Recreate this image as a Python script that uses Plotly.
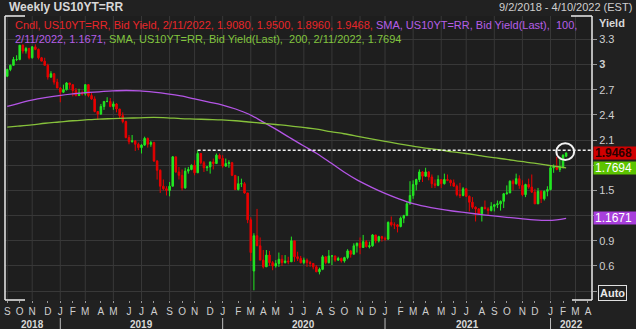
import pandas as pd
import plotly.graph_objects as go

# ---------------- data ----------------
chart_title = "Weekly US10YT=RR"
range_label = "9/2/2018 - 4/10/2022 (EST)"
axis_start, axis_end = "2018-09-02", "2022-04-10"
bar_dates = pd.date_range("2018-09-07", "2022-02-11", freq="W-FRI")

opens = [
    # 2018
    2.86, 2.94, 2.99, 3.06, 3.06, 3.23, 3.16, 3.19, 3.08, 3.21, 3.18, 3.08, 3.04, 2.99, 2.85, 2.89, 2.79,
    # 2019
    2.72, 2.67, 2.70, 2.78, 2.76, 2.69, 2.63, 2.66, 2.65, 2.76, 2.63, 2.59, 2.44, 2.41, 2.50, 2.56, 2.56,
    2.50, 2.53, 2.47, 2.39, 2.32, 2.13, 2.08, 2.09, 2.05, 2.01, 2.04, 2.12, 2.05, 2.07, 1.85, 1.74, 1.55, 1.52,
    1.50, 1.55, 1.90, 1.72, 1.68, 1.53, 1.73, 1.75, 1.80, 1.71, 1.94, 1.83, 1.77, 1.78, 1.84, 1.82, 1.92,
    # 2020
    1.88, 1.79, 1.82, 1.83, 1.68, 1.51, 1.58, 1.58, 1.47, 1.15, 0.54, 0.96, 0.84, 0.67, 0.59, 0.73, 0.64,
    0.60, 0.63, 0.68, 0.64, 0.66, 0.65, 0.90, 0.71, 0.69, 0.64, 0.67, 0.64, 0.63, 0.59, 0.53, 0.56, 0.71, 0.64,
    0.72, 0.72, 0.67, 0.69, 0.66, 0.70, 0.78, 0.74, 0.84, 0.87, 0.82, 0.89, 0.83, 0.84, 0.97, 0.90, 0.95,
    # 2021
    0.93, 0.92, 1.12, 1.09, 1.09, 1.07, 1.17, 1.20, 1.34, 1.44, 1.57, 1.63, 1.72, 1.67, 1.72, 1.66, 1.58, 1.56,
    1.63, 1.58, 1.63, 1.62, 1.59, 1.55, 1.45, 1.44, 1.52, 1.43, 1.36, 1.30, 1.28, 1.22, 1.30, 1.28, 1.26,
    1.31, 1.33, 1.34, 1.37, 1.46, 1.47, 1.61, 1.58, 1.64, 1.56, 1.45, 1.57, 1.54, 1.48, 1.34, 1.49, 1.40, 1.49,
    # 2022
    1.51, 1.77, 1.78, 1.75, 1.78, 1.9080,
]
highs = [
    2.95, 3.00, 3.09, 3.11, 3.23, 3.24, 3.21, 3.20, 3.22, 3.24, 3.19, 3.09, 3.08, 3.01, 2.92, 2.90, 2.83,
    2.73, 2.76, 2.79, 2.78, 2.76, 2.72, 2.71, 2.69, 2.76, 2.76, 2.66, 2.62, 2.44, 2.53, 2.56, 2.61, 2.60,
    2.56, 2.54, 2.47, 2.43, 2.33, 2.16, 2.16, 2.10, 2.07, 2.05, 2.14, 2.13, 2.09, 2.08, 1.86, 1.75, 1.63, 1.55,
    1.60, 1.91, 1.90, 1.78, 1.75, 1.77, 1.78, 1.81, 1.86, 1.98, 1.94, 1.85, 1.79, 1.84, 1.88, 1.94, 1.94,
    1.92, 1.88, 1.86, 1.84, 1.68, 1.67, 1.64, 1.60, 1.47, 1.18, 0.99, 1.28, 0.94, 0.79, 0.79, 0.78, 0.66,
    0.67, 0.76, 0.73, 0.73, 0.71, 0.95, 0.90, 0.77, 0.72, 0.70, 0.69, 0.66, 0.63, 0.61, 0.58, 0.73, 0.71, 0.79,
    0.73, 0.72, 0.71, 0.70, 0.71, 0.80, 0.79, 0.87, 0.88, 0.94, 0.97, 0.91, 0.89, 0.98, 0.97, 0.96, 0.96,
    0.95, 1.13, 1.19, 1.12, 1.10, 1.19, 1.21, 1.36, 1.61, 1.62, 1.64, 1.75, 1.73, 1.77, 1.73, 1.69, 1.63, 1.68,
    1.63, 1.70, 1.69, 1.63, 1.63, 1.57, 1.59, 1.54, 1.53, 1.44, 1.42, 1.31, 1.29, 1.30, 1.38, 1.30, 1.36,
    1.33, 1.38, 1.38, 1.47, 1.56, 1.62, 1.63, 1.70, 1.68, 1.62, 1.58, 1.64, 1.69, 1.52, 1.53, 1.50, 1.50, 1.55,
    1.80, 1.81, 1.90, 1.88, 1.93, 1.9500,
]
lows = [
    2.85, 2.92, 2.99, 3.04, 3.05, 3.13, 3.13, 3.06, 3.07, 3.17, 3.06, 3.04, 2.99, 2.82, 2.84, 2.76, 2.72,
    2.55, 2.66, 2.69, 2.71, 2.62, 2.62, 2.63, 2.63, 2.63, 2.61, 2.58, 2.43, 2.34, 2.40, 2.46, 2.55, 2.49,
    2.46, 2.43, 2.35, 2.30, 2.12, 2.05, 2.07, 1.97, 1.98, 1.94, 2.03, 2.01, 2.02, 1.84, 1.63, 1.47, 1.50, 1.44,
    1.43, 1.55, 1.71, 1.63, 1.50, 1.52, 1.70, 1.74, 1.68, 1.71, 1.81, 1.72, 1.73, 1.70, 1.75, 1.82, 1.87,
    1.77, 1.78, 1.77, 1.67, 1.51, 1.50, 1.54, 1.46, 1.11, 0.66, 0.31, 0.84, 0.67, 0.57, 0.59, 0.60, 0.55,
    0.58, 0.59, 0.60, 0.63, 0.62, 0.65, 0.65, 0.66, 0.63, 0.62, 0.59, 0.59, 0.56, 0.53, 0.50, 0.55, 0.62, 0.63,
    0.61, 0.65, 0.66, 0.64, 0.64, 0.68, 0.70, 0.74, 0.76, 0.74, 0.82, 0.82, 0.81, 0.83, 0.87, 0.88, 0.89,
    0.90, 0.91, 1.07, 1.04, 1.00, 1.06, 1.11, 1.20, 1.33, 1.40, 1.50, 1.60, 1.60, 1.66, 1.62, 1.53, 1.53, 1.55,
    1.53, 1.57, 1.61, 1.55, 1.55, 1.43, 1.41, 1.43, 1.42, 1.25, 1.28, 1.13, 1.22, 1.13, 1.28, 1.21, 1.25,
    1.25, 1.29, 1.26, 1.29, 1.45, 1.47, 1.50, 1.57, 1.52, 1.43, 1.42, 1.52, 1.47, 1.34, 1.34, 1.35, 1.38, 1.43,
    1.50, 1.71, 1.74, 1.72, 1.76, 1.8960,
]
closes = [
    2.94, 2.99, 3.06, 3.06, 3.23, 3.16, 3.19, 3.08, 3.21, 3.18, 3.08, 3.04, 2.99, 2.85, 2.89, 2.79, 2.72,
    2.67, 2.70, 2.78, 2.76, 2.69, 2.63, 2.66, 2.65, 2.76, 2.63, 2.59, 2.44, 2.41, 2.50, 2.56, 2.56, 2.50,
    2.53, 2.47, 2.39, 2.32, 2.13, 2.08, 2.09, 2.05, 2.01, 2.04, 2.12, 2.05, 2.07, 1.85, 1.74, 1.55, 1.52, 1.50,
    1.55, 1.90, 1.72, 1.68, 1.53, 1.73, 1.75, 1.80, 1.71, 1.94, 1.83, 1.77, 1.78, 1.84, 1.82, 1.92, 1.88,
    1.79, 1.82, 1.83, 1.68, 1.51, 1.58, 1.58, 1.47, 1.15, 0.76, 0.96, 0.84, 0.67, 0.59, 0.73, 0.64, 0.60,
    0.63, 0.68, 0.64, 0.66, 0.65, 0.90, 0.71, 0.69, 0.64, 0.67, 0.64, 0.63, 0.59, 0.53, 0.56, 0.71, 0.64, 0.72,
    0.72, 0.67, 0.69, 0.66, 0.70, 0.78, 0.74, 0.84, 0.87, 0.82, 0.89, 0.83, 0.84, 0.97, 0.90, 0.95, 0.93,
    0.92, 1.12, 1.09, 1.09, 1.07, 1.17, 1.20, 1.34, 1.44, 1.57, 1.63, 1.72, 1.67, 1.72, 1.66, 1.58, 1.56, 1.63,
    1.58, 1.63, 1.62, 1.59, 1.55, 1.45, 1.44, 1.52, 1.43, 1.36, 1.30, 1.28, 1.22, 1.30, 1.28, 1.26, 1.31,
    1.33, 1.34, 1.37, 1.46, 1.47, 1.61, 1.58, 1.64, 1.56, 1.45, 1.57, 1.54, 1.48, 1.34, 1.49, 1.40, 1.49, 1.51,
    1.77, 1.78, 1.75, 1.78, 1.92, 1.9468,
]

sma_dates = [
    "2018-09-07", "2018-10-01", "2018-11-01", "2018-12-01", "2019-01-01", "2019-02-01", "2019-03-01",
    "2019-04-01", "2019-05-01", "2019-06-01", "2019-07-01", "2019-08-01", "2019-09-01", "2019-10-01",
    "2019-11-01", "2019-12-01", "2020-01-01", "2020-02-01", "2020-03-01", "2020-04-01", "2020-05-01",
    "2020-06-01", "2020-07-01", "2020-08-01", "2020-09-01", "2020-10-01", "2020-11-01", "2020-12-01",
    "2021-01-01", "2021-02-01", "2021-03-01", "2021-04-01", "2021-05-01", "2021-06-01", "2021-07-01",
    "2021-08-01", "2021-09-01", "2021-10-01", "2021-11-01", "2021-12-01", "2022-01-01", "2022-01-21",
    "2022-02-11",
]
sma100 = [
    2.50, 2.535, 2.575, 2.605, 2.63, 2.65, 2.665, 2.675, 2.685, 2.69, 2.685, 2.67, 2.65, 2.625,
    2.59, 2.555, 2.52, 2.47, 2.41, 2.32, 2.23, 2.13, 2.035, 1.94, 1.83, 1.72, 1.62, 1.54,
    1.465, 1.40, 1.35, 1.31, 1.28, 1.255, 1.235, 1.215, 1.197, 1.18, 1.165, 1.15, 1.143, 1.150,
    1.1671,
]
sma200 = [
    2.255, 2.265, 2.28, 2.30, 2.315, 2.33, 2.34, 2.35, 2.355, 2.36, 2.365, 2.37, 2.365, 2.355,
    2.35, 2.345, 2.34, 2.33, 2.315, 2.30, 2.285, 2.27, 2.25, 2.23, 2.20, 2.175, 2.145, 2.115,
    2.085, 2.055, 2.03, 2.005, 1.985, 1.96, 1.94, 1.915, 1.89, 1.87, 1.845, 1.825, 1.80, 1.785,
    1.7694,
]

y_ticks = [0.3, 0.6, 0.9, 1.2, 1.5, 1.8, 2.1, 2.4, 2.7, 3.0, 3.3]
y_hidden = [0.3, 1.2, 1.8]          # covered by the value boxes / Auto box
month_letters = "JFMAMJJASOND"
resistance_date = "2019-11-08"      # swing high the dashed level is drawn from

assert len(opens) == len(highs) == len(lows) == len(closes) == len(bar_dates)
assert len(sma_dates) == len(sma100) == len(sma200)

# ---------------- style ----------------
W, H = 636, 329
L, R, T, B = 5, 592, 16, 300
BG = "#212121"
PLOT_BG = "#1e1e1e"
GRID = "#383838"
TXT = "#cfcfcf"
TICK = "#9a9a9a"
GREEN = "#22e822"
RED = "#e80000"
PURPLE = "#b455e6"
LIME = "#86c13b"
RED_TXT = "#e8262a"
PURPLE_TXT = "#b65ee8"
GREEN_TXT = "#82c43e"
FONT = "Liberation Sans, Arial, sans-serif"


def px(xp):
    return (xp - L) / (R - L)


def py(yp):
    return (B - yp) / (B - T)


y_lo = 3.3 - (B - 39.3) / 83.96
y_hi = 3.3 + (39.3 - T) / 83.96

# month ticks at the first weekly bar of each month
fridays = pd.date_range("2018-09-07", axis_end, freq="W-FRI")
month_ticks = list(fridays.to_series().groupby(fridays.to_period("M")).first())
month_text = [month_letters[d.month - 1] for d in month_ticks]


def ytxt(v):
    if any(abs(v - h) < 1e-9 for h in y_hidden):
        return ""
    if abs(v - round(v)) < 1e-9:
        return "<b>%d</b>" % round(v)
    return "%g" % v


fig = go.Figure()
fig.add_trace(go.Candlestick(
    x=bar_dates, open=opens, high=highs, low=lows, close=closes,
    increasing=dict(line=dict(color=GREEN, width=1), fillcolor=GREEN),
    decreasing=dict(line=dict(color=RED, width=1), fillcolor=RED),
    whiskerwidth=0, hoverinfo="skip", showlegend=False))
fig.add_trace(go.Scatter(x=sma_dates, y=sma100, mode="lines",
                         line=dict(color=PURPLE, width=1.3, shape="spline"), hoverinfo="skip"))
fig.add_trace(go.Scatter(x=sma_dates, y=sma200, mode="lines",
                         line=dict(color=LIME, width=1.3, shape="spline"), hoverinfo="skip"))

shapes = []
# vertical grid every two months
for d in month_ticks:
    if d.month % 2 == 1:
        shapes.append(dict(type="line", xref="x", yref="paper", x0=d, x1=d, y0=0, y1=1,
                           line=dict(color=GRID, width=1), layer="below"))
# year separators below the axis
jan_ticks = [d for d in month_ticks if d.month == 1]
for d in jan_ticks:
    shapes.append(dict(type="line", xref="x", yref="paper", x0=d, x1=d, y0=py(318), y1=py(329),
                       line=dict(color="#bdbdbd", width=1)))
# white frame (full verticals, short corner stubs)
WHITE = "#ececec"
for x0, y0, x1, y1 in [(L, T, L, B), (R, T, R, B), (L, T, L + 20, T), (R - 21, T, R, T),
                       (L, B, L + 20, B), (R - 20, B, R, B)]:
    shapes.append(dict(type="line", xref="paper", yref="paper", x0=px(x0), x1=px(x1),
                       y0=py(y0), y1=py(y1), line=dict(color=WHITE, width=1.5)))
# dashed level from the Nov-2019 swing high
ri = list(bar_dates).index(pd.Timestamp(resistance_date))
level = highs[ri]
shapes.append(dict(type="line", xref="x", yref="y", x0=bar_dates[ri], x1=axis_end, y0=level, y1=level,
                   line=dict(color="#f0f0f0", width=1.5, dash="3px,2px")))
# circle highlighting the latest bar
last = bar_dates[-1] - pd.Timedelta(days=2)
cy = closes[-1] + 0.015
shapes.append(dict(type="circle", xref="x", yref="y",
                   x0=last - pd.Timedelta(days=20), x1=last + pd.Timedelta(days=20),
                   y0=cy - 0.10, y1=cy + 0.10, line=dict(color="#f4f4f4", width=2)))

ann = []
ann.append(dict(text="<b>%s</b>" % chart_title, xref="paper", yref="paper", x=px(7), y=py(7),
                xanchor="left", yanchor="middle", showarrow=False,
                font=dict(size=12, color="#d8d8d8", family=FONT)))
ann.append(dict(text=range_label, xref="paper", yref="paper", x=px(634), y=py(7),
                xanchor="right", yanchor="middle", showarrow=False,
                font=dict(size=11, color=TXT, family=FONT)))
ann.append(dict(text="<b>Yield</b>", xref="paper", yref="paper", x=px(597), y=py(23),
                xanchor="left", yanchor="middle", showarrow=False,
                font=dict(size=11, color="#d8d8d8", family=FONT)))

d_last = "%d/%d/%d" % (bar_dates[-1].month, bar_dates[-1].day, bar_dates[-1].year)
line1 = ('<span style="color:%s">Cndl, US10YT=RR, Bid Yield, %s, %.4f, %.4f, %.4f, %.4f,</span>'
         '<span style="color:%s"> SMA, US10YT=RR, Bid Yield(Last),\u00a0 100,</span>'
         % (RED_TXT, d_last, opens[-1], highs[-1], lows[-1], closes[-1], PURPLE_TXT))
line2 = ('<span style="color:%s">%s, %.4f,</span>'
         '<span style="color:%s"> SMA, US10YT=RR, Bid Yield(Last),\u00a0 200, %s, %.4f</span>'
         % (PURPLE_TXT, d_last, sma100[-1], GREEN_TXT, d_last, sma200[-1]))
for txt, yy in [(line1, 25), (line2, 39)]:
    ann.append(dict(text=txt, xref="paper", yref="paper", x=px(13), y=py(yy),
                    xanchor="left", yanchor="middle", showarrow=False,
                    font=dict(size=11, family=FONT)))

# value boxes on the right
for val, bg, fc, bold in [(closes[-1], "#d00000", "#2a0000", True),
                          (sma200[-1], "#5cc400", "#ffffff", False),
                          (sma100[-1], "#a83fdc", "#ffffff", False)]:
    t = "%.4f" % val
    ann.append(dict(text=("<b>%s</b>" % t) if bold else t, xref="paper", yref="y",
                    x=px(593), y=val, xanchor="left", yanchor="middle", showarrow=False,
                    align="left", width=42, height=10, borderpad=1, bgcolor=bg,
                    font=dict(size=12, color=fc, family=FONT)))
# Auto box
ann.append(dict(text="<b>Auto</b>", xref="paper", yref="paper", x=px(598), y=py(293),
                xanchor="left", yanchor="middle", showarrow=False, bgcolor=BG,
                bordercolor="#e0e0e0", borderwidth=1, borderpad=1,
                font=dict(size=11, color="#e8e8e8", family=FONT)))

# year labels centred in each year's visible span
bounds = [pd.Timestamp(axis_start)] + jan_ticks + [pd.Timestamp(axis_end)]
for a, b in zip(bounds[:-1], bounds[1:]):
    mid = a + (b - a) / 2
    ann.append(dict(text="<b>%d</b>" % a.year, xref="x", yref="paper", x=mid, y=py(330.5),
                    xanchor="center", yanchor="bottom", showarrow=False, borderpad=0,
                    font=dict(size=10, color="#d8d8d8", family=FONT)))

fig.update_layout(
    width=W, height=H, margin=dict(l=L, r=W - R, t=T, b=H - B, pad=0),
    paper_bgcolor=BG, plot_bgcolor=PLOT_BG, showlegend=False,
    font=dict(family=FONT, size=11, color=TXT),
    xaxis=dict(type="date", range=[axis_start, axis_end], rangeslider=dict(visible=False),
               tickmode="array", tickvals=month_ticks, ticktext=month_text,
               ticks="outside", ticklen=2, tickcolor=TICK, tickwidth=1,
               showgrid=False, zeroline=False, showline=False, fixedrange=True,
               tickfont=dict(size=10, color=TXT)),
    yaxis=dict(side="right", range=[y_lo, y_hi], tickmode="array", tickvals=y_ticks,
               ticktext=[ytxt(v) for v in y_ticks], ticks="outside", ticklen=4, tickcolor=TICK,
               showgrid=True, gridcolor=GRID, gridwidth=1, zeroline=False, showline=False,
               tickfont=dict(size=11, color=TXT), fixedrange=True),
    shapes=shapes, annotations=ann,
)

fig.write_html("out.html")
